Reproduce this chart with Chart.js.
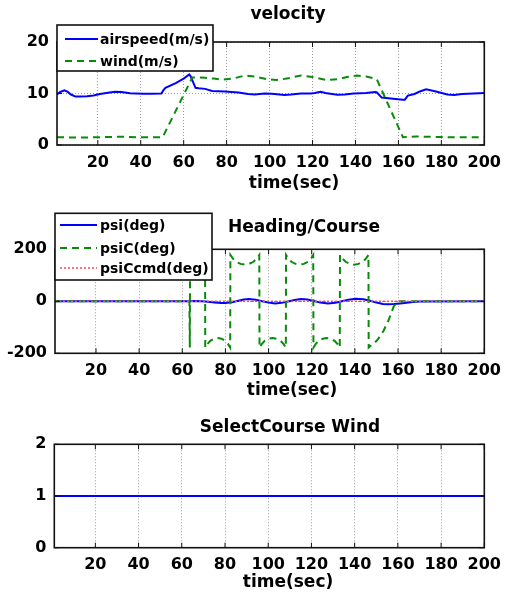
<!DOCTYPE html>
<html><head><meta charset="utf-8">
<script src="https://cdn.jsdelivr.net/npm/chart.js@4"></script>
<style>
html,body{margin:0;padding:0;background:#fff;overflow:hidden;}
#wrap{position:relative;width:509px;height:599px;}
canvas{position:absolute;left:0;}
</style></head><body>
<div id="wrap">
<canvas id="c1" width="509" height="200" style="top:0px"></canvas>
<canvas id="c2" width="509" height="200" style="top:200px"></canvas>
<canvas id="c3" width="509" height="199" style="top:400px"></canvas>
</div>
<script>
// ---------- data ----------
const xTicks = [20, 40, 60, 80, 100, 120, 140, 160, 180, 200];

const tAirspeed = [1, 2.5, 4.5, 6, 7.5, 9.6, 12, 15, 18, 21, 24, 28, 31, 35, 41, 45, 49.6, 50.5, 51.5, 56.3, 60, 62.6, 63.3, 65.5, 67, 70, 73.2, 79.3, 85.5, 90, 93.1, 97.7, 101, 107, 110, 114.6, 119.2, 121, 123.8, 126, 131.5, 135, 139.1, 145, 149.1, 150, 152.2, 157.5, 162.1, 163, 164.4, 167.5, 170, 172.9, 177.5, 182.8, 186, 189.6, 195, 200];
const airspeed  = [9.8, 10.3, 10.6, 10.3, 9.8, 9.4, 9.4, 9.45, 9.6, 9.9, 10.1, 10.35, 10.3, 10.05, 9.95, 9.95, 10.0, 10.6, 11.1, 12.0, 12.9, 13.7, 13.3, 11.1, 11.0, 10.9, 10.5, 10.4, 10.2, 9.9, 9.8, 10.0, 9.95, 9.7, 9.8, 10.0, 10.0, 10.1, 10.35, 10.1, 9.75, 9.8, 10.0, 10.1, 10.3, 10.2, 9.2, 9.0, 8.8, 8.8, 9.6, 9.9, 10.4, 10.8, 10.4, 9.8, 9.7, 9.9, 10.0, 10.1];

const tWind = [1, 10, 20, 30, 40, 50.2, 64, 67, 70, 74, 78, 83, 88.5, 93, 98.5, 103, 108, 114.6, 120, 126.9, 132, 136, 140.7, 145, 149.9, 162.1, 165, 168.3, 175, 185, 200];
const wind  = [1.5, 1.45, 1.5, 1.6, 1.5, 1.5, 13.1, 13.1, 13.05, 12.9, 12.7, 12.9, 13.5, 13.3, 12.8, 12.6, 12.9, 13.5, 13.2, 12.6, 12.8, 13.2, 13.5, 13.3, 12.8, 1.5, 1.55, 1.65, 1.6, 1.5, 1.5];

const tPsi = [1, 63, 66, 69, 72, 75, 78, 80, 83, 86, 88.5, 91, 94, 97, 100, 103, 106, 109, 112, 115, 118, 121, 124, 127.5, 131, 134, 137, 140.5, 144, 147, 150, 153, 155.5, 158, 161, 164, 167, 170, 200];
const psi  = [0, 0, 1, 0, -2, -5, -7, -7, -4, 2, 7, 9, 6, 0, -5, -8, -6, -1, 5, 9, 7, 1, -5, -8, -6, 0, 6, 10, 8, 2, -5, -10, -11, -10, -8, -6, -3, -1, 0];

const tPsiC = [1, 63.3, 63.5, 63.6,
  64.2, 65.3, 66.8, 67.6, 68.4, 69.6, 70.3, 70.55, 70.65,
  71.6, 73.0, 74.7, 76.4, 78.2, 79.9, 81.3, 82.2, 82.3,
  83.4, 85.0, 87.0, 89.0, 91.0, 93.0, 94.6, 95.7, 95.8,
  96.8, 98.2, 100.1, 101.9, 103.7, 105.6, 107.0, 108.0, 108.1,
  109.1, 110.6, 112.5, 114.4, 116.3, 118.2, 119.7, 120.7, 120.8,
  121.8, 123.2, 125.1, 126.9, 128.7, 130.6, 132.0, 133.0, 133.1,
  134.2, 135.7, 137.7, 139.7, 141.7, 143.7, 145.2, 146.3, 146.4,
  147.2, 148.8, 150.3, 151.8, 153.3, 155.6, 157.9, 159.2, 160.2, 200];
const psiC = [0, 0, -178, 178,
  165, 152, 144, 141, 144, 152, 165, 178, -178,
  -165, -152, -144, -141, -144, -152, -165, -178, 178,
  165, 152, 144, 141, 144, 152, 165, 178, -178,
  -165, -152, -144, -141, -144, -152, -165, -178, 178,
  165, 152, 144, 141, 144, 152, 165, 178, -178,
  -165, -152, -144, -141, -144, -152, -165, -178, 178,
  165, 152, 144, 141, 144, 152, 165, 178, -178,
  -172, -162, -150, -133, -113, -73, -22, -6, 0, 0];

const tPsiCcmd = [1, 200];
const psiCcmd  = [0, 0];

const tSelect = [1, 200];
const selectCourse = [1, 1];

// ---------- helpers ----------
const FONT = 'DejaVu Sans';
const BLUE = '#0000ff', GREEN = '#0a8a0a', RED = '#ff4a4a';
const pts = (t, v) => t.map((x, i) => ({x: x, y: v[i]}));

const framePlugin = {
  id: 'frame',
  afterDatasetsDraw(chart, args, o) {
    const {ctx, chartArea: a, scales} = chart;
    ctx.save();
    ctx.strokeStyle = '#111';
    ctx.lineWidth = 1;
    ctx.beginPath();
    scales.x.ticks.forEach(t => {
      const px = scales.x.getPixelForValue(t.value);
      ctx.moveTo(px, a.bottom); ctx.lineTo(px, a.bottom - 5);
      ctx.moveTo(px, a.top); ctx.lineTo(px, a.top + 5);
    });
    scales.y.ticks.forEach(t => {
      const py = scales.y.getPixelForValue(t.value);
      ctx.moveTo(a.left, py); ctx.lineTo(a.left + 5, py);
      ctx.moveTo(a.right, py); ctx.lineTo(a.right - 5, py);
    });
    ctx.stroke();
    ctx.lineWidth = 1.6;
    ctx.strokeRect(a.left, a.top, a.right - a.left, a.bottom - a.top);
    ctx.restore();
  },
  afterDraw(chart, args, o) {
    const ctx = chart.ctx;
    ctx.save();
    if (o.legend) {
      const L = o.legend;
      const [x0, y0, x1, y1] = L.box;
      ctx.fillStyle = '#fff';
      ctx.fillRect(x0, y0, x1 - x0, y1 - y0);
      ctx.strokeStyle = '#111';
      ctx.lineWidth = 1.6;
      ctx.strokeRect(x0, y0, x1 - x0, y1 - y0);
      L.items.forEach(it => {
        const ds = chart.data.datasets[it.ds];
        ctx.beginPath();
        ctx.strokeStyle = ds.borderColor;
        ctx.lineWidth = ds.borderWidth;
        ctx.setLineDash(ds.borderDash || []);
        ctx.moveTo(L.sample[0], it.y);
        ctx.lineTo(L.sample[1], it.y);
        ctx.stroke();
        ctx.setLineDash([]);
        ctx.fillStyle = '#000';
        ctx.font = 'bold 14px "' + FONT + '"';
        ctx.textAlign = 'left';
        ctx.textBaseline = 'middle';
        ctx.fillText(ds.label, L.textX, it.y + 1);
      });
    }
    ctx.fillStyle = '#000';
    ctx.font = 'bold 17px "' + FONT + '"';
    ctx.textAlign = 'center';
    ctx.textBaseline = 'alphabetic';
    ctx.fillText(o.title, o.titlePos[0], o.titlePos[1]);
    ctx.fillText(o.xlabel, o.xlabelPos[0], o.xlabelPos[1]);
    ctx.restore();
  }
};

function makeChart(id, datasets, cfg) {
  const tickFont = {family: FONT, weight: 'bold', size: 16};
  return new Chart(document.getElementById(id), {
    type: 'line',
    data: {datasets: datasets},
    options: {
      responsive: false, animation: false, devicePixelRatio: 1,
      layout: {padding: {top: cfg.top, right: cfg.right, left: 0, bottom: 0}},
      elements: {point: {radius: 0}, line: {tension: 0, fill: false}},
      plugins: {legend: {display: false}, tooltip: {enabled: false}, title: {display: false}, frame: cfg.frame},
      scales: {
        x: {
          type: 'linear', min: 1, max: 200,
          afterFit: s => { s.height = cfg.xh; },
          afterBuildTicks: s => { s.ticks = xTicks.map(v => ({value: v})); },
          ticks: {autoSkip: false, maxRotation: 0, minRotation: 0, font: tickFont, color: '#000', padding: cfg.xpad,
                  callback: v => String(v)},
          grid: {color: '#9a9a9a', lineWidth: 1, drawTicks: false, borderDash: [1, 2]},
          border: {display: false, dash: [1, 2]}
        },
        y: {
          type: 'linear', min: cfg.yTicks[0], max: cfg.yTicks[cfg.yTicks.length - 1],
          afterFit: s => { s.width = cfg.left; },
          afterBuildTicks: s => { s.ticks = cfg.yTicks.map(v => ({value: v})); },
          ticks: {font: tickFont, color: '#000', padding: 8, callback: v => String(v)},
          grid: {color: '#9a9a9a', lineWidth: 1, drawTicks: false, borderDash: [1, 2]},
          border: {display: false, dash: [1, 2]}
        }
      }
    },
    plugins: [framePlugin]
  });
}

// ---------- chart 1: velocity ----------
const yTicks1 = [0, 10, 20];
makeChart('c1', [
  {label: 'airspeed(m/s)', data: pts(tAirspeed, airspeed), borderColor: BLUE, borderWidth: 2, order: 2},
  {label: 'wind(m/s)', data: pts(tWind, wind), borderColor: GREEN, borderWidth: 2, borderDash: [7, 5], order: 1}
], {
  top: 42, right: 20, left: 57, xh: 55, xpad: 8, yTicks: yTicks1,
  frame: {
    title: 'velocity', titlePos: [288, 19],
    xlabel: 'time(sec)', xlabelPos: [294, 188],
    legend: {box: [57, 25, 213, 71], sample: [65, 98], textX: 100,
             items: [{ds: 0, y: 39}, {ds: 1, y: 61}]}
  }
});

// ---------- chart 2: Heading/Course ----------
const yTicks2 = [-200, 0, 200];
makeChart('c2', [
  {label: 'psi(deg)', data: pts(tPsi, psi), borderColor: BLUE, borderWidth: 2, order: 3},
  {label: 'psiC(deg)', data: pts(tPsiC, psiC), borderColor: GREEN, borderWidth: 2, borderDash: [7, 5], order: 2},
  {label: 'psiCcmd(deg)', data: pts(tPsiCcmd, psiCcmd), borderColor: RED, borderWidth: 1.5, borderDash: [2, 2], order: 1}
], {
  top: 49.3, right: 20, left: 55, xh: 46.7, xpad: 8, yTicks: yTicks2,
  frame: {
    title: 'Heading/Course', titlePos: [304, 32],
    xlabel: 'time(sec)', xlabelPos: [292, 195],
    legend: {box: [55, 13.3, 212, 80], sample: [60, 97], textX: 100,
             items: [{ds: 0, y: 25}, {ds: 1, y: 48}, {ds: 2, y: 68}]}
  }
});

// ---------- chart 3: SelectCourse Wind ----------
const yTicks3 = [0, 1, 2];
makeChart('c3', [
  {label: 'SelectCourse', data: pts(tSelect, selectCourse), borderColor: BLUE, borderWidth: 2}
], {
  top: 44.3, right: 23.7, left: 54.3, xh: 51.3, xpad: 8, yTicks: yTicks3,
  frame: {
    title: 'SelectCourse Wind', titlePos: [290, 32],
    xlabel: 'time(sec)', xlabelPos: [288, 187]
  }
});
</script>
</body></html>
